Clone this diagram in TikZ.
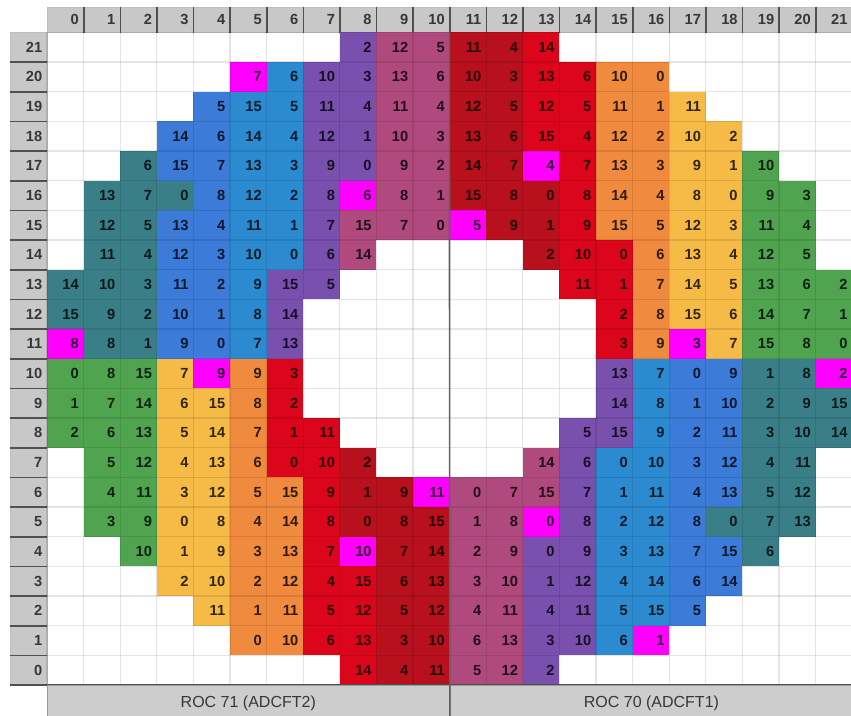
\documentclass[tikz,border=0pt]{standalone}
\usepackage{fontspec}
\setmainfont{Liberation Sans}
\usetikzlibrary{positioning}
\definecolor{pxT}{RGB}{58,127,135}
\definecolor{pxB}{RGB}{61,123,216}
\definecolor{pxL}{RGB}{44,139,208}
\definecolor{pxP}{RGB}{122,80,174}
\definecolor{pxM}{RGB}{176,74,126}
\definecolor{pxD}{RGB}{184,16,28}
\definecolor{pxR}{RGB}{219,6,28}
\definecolor{pxO}{RGB}{240,138,62}
\definecolor{pxY}{RGB}{246,187,71}
\definecolor{pxG}{RGB}{80,164,80}
\definecolor{pxK}{RGB}{255,0,255}
\definecolor{headgray}{RGB}{200,200,200}
\definecolor{headline}{RGB}{80,80,80}
\definecolor{labelgray}{RGB}{55,55,55}

\tikzset{
  pixcell/.style={rectangle, inner xsep=3.6pt, inner ysep=0pt, text width=20.25pt, align=right,
    minimum height=22.25pt, font=\fontsize{11}{13}\selectfont\bfseries, text=black, text opacity=0.8},
  colhead/.style={rectangle, fill=headgray, draw=black!25, inner xsep=3.6pt, inner ysep=0pt, text width=20.25pt,
    align=right, minimum height=18.98pt, font=\fontsize{11}{13}\selectfont\bfseries, text=labelgray},
  rowhead/.style={colhead, minimum height=22.25pt},
  rocbar/.style={rectangle, fill=headgray!90, draw=black!40, minimum width=301.95pt, minimum height=28pt,
    inner sep=0pt, font=\fontsize{12}{14}\selectfont, text=labelgray},
  gridline/.style={black, opacity=0.1, line width=0.8pt},
  headsep/.style={headline, line width=1.2pt},
  rocsep/.style={black!62, line width=1.2pt}
}

\begin{document}
\begin{tikzpicture}[x=27.45pt, y=-22.25pt]
    \useasboundingbox (-1.284,-1.089) rectangle (21.967,23.02);
    \clip (-1.284,-1.089) rectangle (21.967,23.02);

    % Headers
    \foreach \hc in {0,...,21}
        \node[colhead] (col\hc) at (\hc+0.5,-0.4265) {\hc};
    \foreach \hr in {0,...,21}
        \node[rowhead] (row\hr) at (-0.5,21.5-\hr) {\hr};
    \foreach \hc in {0,...,21}
        \draw[headsep] (col\hc.north east) -- (col\hc.south east);
    \foreach \hr in {0,...,21}
        \draw[headsep] (row\hr.south west) -- (row\hr.south east);

    % Pixels (row / first column / colour+number)
    \foreach \rw/\st/\cells in {
        21/8/{P/2,M/12,M/5,D/11,D/4,R/14},
        20/5/{K/7,L/6,P/10,P/3,M/13,M/6,D/10,D/3,R/13,R/6,O/10,O/0},
        19/4/{B/5,L/15,L/5,P/11,P/4,M/11,M/4,D/12,D/5,R/12,R/5,O/11,O/1,Y/11},
        18/3/{B/14,B/6,L/14,L/4,P/12,P/1,M/10,M/3,D/13,D/6,R/15,R/4,O/12,O/2,Y/10,Y/2},
        17/2/{T/6,B/15,B/7,L/13,L/3,P/9,P/0,M/9,M/2,D/14,D/7,K/4,R/7,O/13,O/3,Y/9,Y/1,G/10},
        16/1/{T/13,T/7,T/0,B/8,L/12,L/2,P/8,K/6,M/8,M/1,D/15,D/8,D/0,R/8,O/14,O/4,Y/8,Y/0,G/9,G/3},
        15/1/{T/12,T/5,B/13,B/4,L/11,L/1,P/7,M/15,M/7,M/0,K/5,D/9,D/1,R/9,O/15,O/5,Y/12,Y/3,G/11,G/4},
        14/1/{T/11,T/4,B/12,B/3,L/10,L/0,P/6,M/14},
        14/13/{D/2,R/10,R/0,O/6,Y/13,Y/4,G/12,G/5},
        13/0/{T/14,T/10,T/3,B/11,B/2,L/9,P/15,P/5},
        13/14/{R/11,R/1,O/7,Y/14,Y/5,G/13,G/6,G/2},
        12/0/{T/15,T/9,T/2,B/10,B/1,L/8,P/14},
        12/15/{R/2,O/8,Y/15,Y/6,G/14,G/7,G/1},
        11/0/{K/8,T/8,T/1,B/9,B/0,L/7,P/13},
        11/15/{R/3,O/9,K/3,Y/7,G/15,G/8,G/0},
        10/0/{G/0,G/8,G/15,Y/7,K/9,O/9,R/3},
        10/15/{P/13,L/7,B/0,B/9,T/1,T/8,K/2},
        9/0/{G/1,G/7,G/14,Y/6,Y/15,O/8,R/2},
        9/15/{P/14,L/8,B/1,B/10,T/2,T/9,T/15},
        8/0/{G/2,G/6,G/13,Y/5,Y/14,O/7,R/1,R/11},
        8/14/{P/5,P/15,L/9,B/2,B/11,T/3,T/10,T/14},
        7/1/{G/5,G/12,Y/4,Y/13,O/6,R/0,R/10,D/2},
        7/13/{M/14,P/6,L/0,L/10,B/3,B/12,T/4,T/11},
        6/1/{G/4,G/11,Y/3,Y/12,O/5,O/15,R/9,D/1,D/9,K/11,M/0,M/7,M/15,P/7,L/1,L/11,B/4,B/13,T/5,T/12},
        5/1/{G/3,G/9,Y/0,Y/8,O/4,O/14,R/8,D/0,D/8,D/15,M/1,M/8,K/0,P/8,L/2,L/12,B/8,T/0,T/7,T/13},
        4/2/{G/10,Y/1,Y/9,O/3,O/13,R/7,K/10,D/7,D/14,M/2,M/9,P/0,P/9,L/3,L/13,B/7,B/15,T/6},
        3/3/{Y/2,Y/10,O/2,O/12,R/4,R/15,D/6,D/13,M/3,M/10,P/1,P/12,L/4,L/14,B/6,B/14},
        2/4/{Y/11,O/1,O/11,R/5,R/12,D/5,D/12,M/4,M/11,P/4,P/11,L/5,L/15,B/5},
        1/5/{O/0,O/10,R/6,R/13,D/3,D/10,M/6,M/13,P/3,P/10,L/6,K/1},
        0/8/{R/14,D/4,D/11,M/5,M/12,P/2}}
    {
        \foreach \clr/\num [count=\idx from 0] in \cells {
            \pgfmathtruncatemacro\col{\st+\idx}
            \node[pixcell, fill=px\clr] (p\col-\rw) at (\col+0.5,21.5-\rw) {\num};
        }
    }

    % Grid
    \foreach \gi in {0,...,22} {
        \draw[gridline] (\gi,0) -- (\gi,22);
        \draw[gridline] (0,\gi) -- (22,\gi);
    }

    % ROC bars
    \node[rocbar] (roc71) at (5.5,22.63) {ROC 71 (ADCFT2)};
    \node[rocbar, right=0pt of roc71] (roc70) {ROC 70 (ADCFT1)};
    \draw[headsep, line width=1pt] (roc71.north west) -- (roc70.north east);
    \draw[rocsep] (col11.south west) -- (roc70.south west);
\end{tikzpicture}
\end{document}
